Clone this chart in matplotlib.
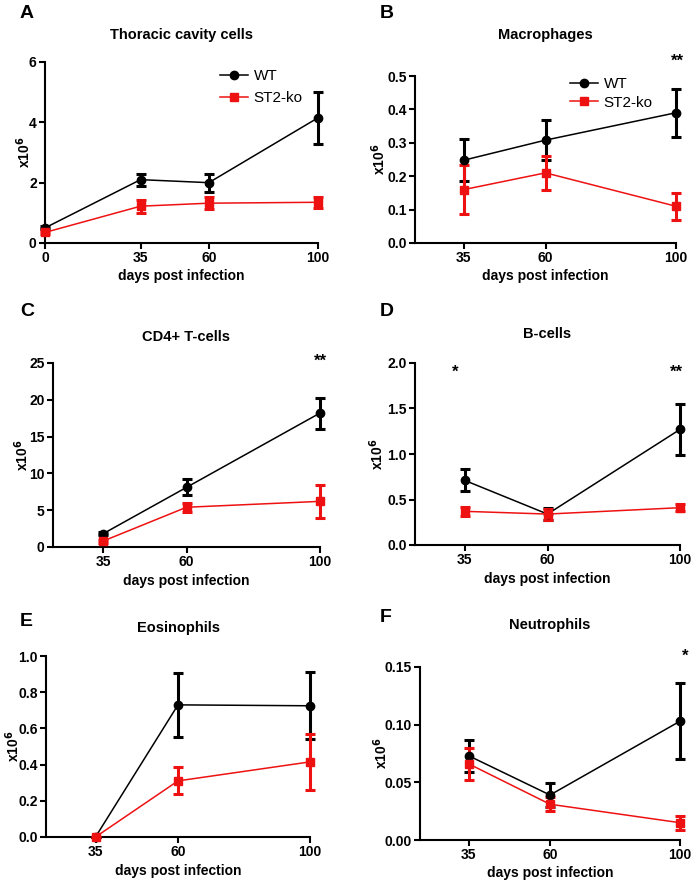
import numpy as np
import matplotlib
matplotlib.use("Agg")
from matplotlib import pyplot as plt
from matplotlib.lines import Line2D

plt.rcParams['font.family'] = ['Liberation Sans', 'DejaVu Sans']
plt.rcParams['font.weight'] = 'bold'

W, H = 694, 883
RED = '#ee1111'

# data
days_a = [0, 35, 60, 100]
days = [35, 60, 100]

wt_a = [0.5, 2.1, 2.0, 4.15]
wt_a_err = [0.05, 0.2, 0.3, 0.87]
ko_a = [0.35, 1.22, 1.32, 1.35]
ko_a_err = [0.05, 0.22, 0.2, 0.18]

wt_b = [0.248, 0.308, 0.39]
wt_b_err = [0.062, 0.06, 0.072]
ko_b = [0.16, 0.21, 0.11]
ko_b_err = [0.073, 0.05, 0.04]

wt_c = [1.8, 8.1, 18.2]
wt_c_err = [0.2, 1.1, 2.1]
ko_c = [0.8, 5.4, 6.2]
ko_c_err = [0.2, 0.6, 2.2]

wt_d = [0.71, 0.34, 1.27]
wt_d_err = [0.12, 0.07, 0.28]
ko_d = [0.37, 0.34, 0.41]
ko_d_err = [0.05, 0.06, 0.04]

wt_e = [0.0, 0.73, 0.725]
wt_e_err = [0.0, 0.175, 0.185]
ko_e = [0.0, 0.31, 0.415]
ko_e_err = [0.0, 0.075, 0.155]

wt_f = [0.073, 0.039, 0.103]
wt_f_err = [0.014, 0.01, 0.033]
ko_f = [0.066, 0.031, 0.015]
ko_f_err = [0.014, 0.006, 0.006]

fig = plt.figure(figsize=(W / 100, H / 100), dpi=100)


def make_ax(l, r, t, b):
    return fig.add_axes([l / W, 1 - b / H, (r - l) / W, (b - t) / H])


def panel(ax, x, wt, wt_err, ko, ko_err, title, title_y, ylabel_x, ylim, yticks, xlim, ytick_fmt):
    for y, err, col, mk in [(wt, wt_err, 'black', 'o'), (ko, ko_err, RED, 's')]:
        eb = ax.errorbar(x, y, yerr=err, color=col, marker=mk, ms=6 if mk == 'o' else 5.5,
                         lw=1.1, elinewidth=2.2, capsize=3.5, capthick=2.2, zorder=3)
        for art in eb.get_children():
            art.set_clip_on(False)
    ax.set_xlim(*xlim)
    ax.set_ylim(*ylim)
    ax.set_xticks(x)
    ax.set_yticks(yticks)
    ax.set_yticklabels([ytick_fmt.format(v) for v in yticks])
    for s in ['top', 'right']:
        ax.spines[s].set_visible(False)
    for s in ['left', 'bottom']:
        ax.spines[s].set_linewidth(1.5)
    ax.tick_params(direction='out', length=4, width=1.5, labelsize=10, pad=2)
    for lab in ax.get_xticklabels() + ax.get_yticklabels():
        lab.set_fontweight('bold')
    ax.set_xlabel('days post infection', fontsize=10, fontweight='bold', labelpad=3)
    ax.set_ylabel('x10$^{\\mathbf{6}}$', fontsize=10, fontweight='bold')
    pos = ax.get_position()
    ax.yaxis.label.set_verticalalignment('center')
    ax.yaxis.set_label_coords((ylabel_x / W - pos.x0) / pos.width, 0.5)
    fig.text((pos.x0 + pos.x1) / 2, 1 - title_y / H, title, fontsize=10.5,
             fontweight='bold', ha='center', va='center')
    return ax


def legend(ax, x0, y0, dy):
    handles = [Line2D([], [], color='black', marker='o', ms=6, lw=1.1),
               Line2D([], [], color=RED, marker='s', ms=5.5, lw=1.1)]
    ax.legend(handles, ['WT', 'ST2-ko'], loc='upper left',
              bbox_to_anchor=(x0 / W, 1 - y0 / H), bbox_transform=fig.transFigure,
              frameon=False, prop={'size': 11, 'weight': 'normal'},
              handlelength=1.8, handletextpad=0.4, labelspacing=dy,
              borderpad=0, borderaxespad=0)


axA = make_ax(45, 318, 62, 243)
panel(axA, days_a, wt_a, wt_a_err, ko_a, ko_a_err, 'Thoracic cavity cells', 35, 24,
      (0, 6), [0, 2, 4, 6], (0, 100), '{:.0f}')
legend(axA, 220, 69, 0.55)

axB = make_ax(415, 676, 76, 243)
panel(axB, days, wt_b, wt_b_err, ko_b, ko_b_err, 'Macrophages', 35, 379,
      (0, 0.5), [0, 0.1, 0.2, 0.3, 0.4, 0.5], (20, 100), '{:.1f}')
legend(axB, 570, 77, 0.3)
axB.text(100.5, 0.545, '**', ha='center', va='center', fontsize=12, fontweight='bold')

axC = make_ax(53, 320, 363, 547)
panel(axC, days, wt_c, wt_c_err, ko_c, ko_c_err, 'CD4+ T-cells', 337, 22,
      (0, 25), [0, 5, 10, 15, 20, 25], (20, 100), '{:.0f}')
axC.text(100, 25.2, '**', ha='center', va='center', fontsize=12, fontweight='bold')

axD = make_ax(415, 680, 363, 545)
panel(axD, days, wt_d, wt_d_err, ko_d, ko_d_err, 'B-cells', 334, 377,
      (0, 2.0), [0, 0.5, 1.0, 1.5, 2.0], (20, 100), '{:.1f}')
axD.text(32, 1.9, '*', ha='center', va='center', fontsize=12, fontweight='bold')
axD.text(99, 1.9, '**', ha='center', va='center', fontsize=12, fontweight='bold')

axE = make_ax(46, 310, 656, 837)
panel(axE, days, wt_e, wt_e_err, ko_e, ko_e_err, 'Eosinophils', 628, 13,
      (0, 1.0), [0, 0.2, 0.4, 0.6, 0.8, 1.0], (20, 100), '{:.1f}')

axF = make_ax(420, 680, 667, 840)
panel(axF, days, wt_f, wt_f_err, ko_f, ko_f_err, 'Neutrophils', 625, 381,
      (0, 0.15), [0, 0.05, 0.10, 0.15], (20, 100), '{:.2f}')
axF.text(101.5, 0.159, '*', ha='center', va='center', fontsize=12, fontweight='bold')

# panel letters
for letter, px, py in [('A', 20, 13), ('B', 380, 13), ('C', 20, 312),
                       ('D', 380, 312), ('E', 20, 622), ('F', 380, 618)]:
    fig.text(px / W, 1 - py / H, letter, fontsize=14, fontweight='bold',
             ha='left', va='center')

fig.savefig('out.png', dpi=100)
